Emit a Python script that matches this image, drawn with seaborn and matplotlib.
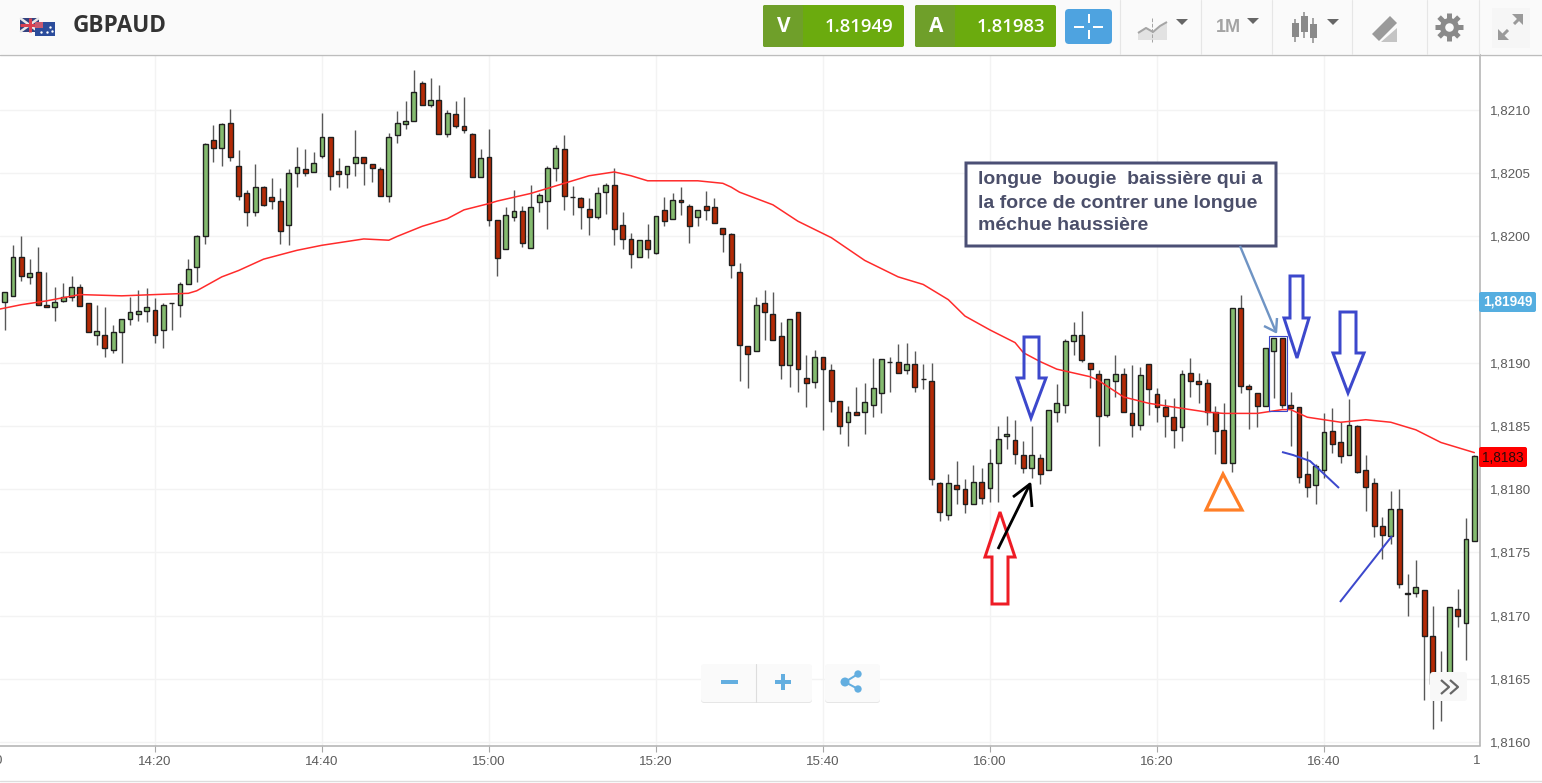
# GBPAUD 1 minute candles with moving average and hand drawn notes
import numpy as np
import pandas as pd
import seaborn as sns
import matplotlib
matplotlib.use('Agg')
import matplotlib.pyplot as plt
from matplotlib.patches import FancyBboxPatch, Polygon, Rectangle

# prices in 1e-5 units, one candle a minute from 14:02
opens = [181948,181953,181984,181968,181972,181946,181944,181949,181952,181960,181947,181922,181922,181910,181924,181935,181939,181941,181942,181926,
         181947,181946,181962,181976,182000,182076,182070,182090,182056,182034,182019,182039,182031,182028,182009,182050,182053,182051,182064,182079,
         182052,182049,182058,182063,182057,182053,182032,182080,182089,182091,182121,182104,182108,182081,182097,182087,182081,182047,182063,182013,
         181990,182015,182020,181991,182027,182028,182054,182069,182031,182030,182022,182015,182035,182041,182009,181998,181984,181997,181987,182021,
         182014,182029,182024,182015,182024,182023,182007,182002,181972,181913,181909,181947,181939,181921,181898,181940,181888,181885,181905,181894,
         181870,181853,181861,181861,181867,181876,181901,181901,181894,181899,181887,181886,181805,181780,181803,181800,181788,181806,181801,181821,
         181842,181839,181827,181817,181825,181815,181861,181867,181917,181922,181900,181891,181859,181886,181891,181860,181851,181899,181875,181865,
         181857,181849,181892,181886,181884,181861,181847,181821,181943,181882,181876,181866,181909,181920,181867,181865,181812,181803,181815,181846,
         181837,181827,181850,181815,181805,181771,181763,181784,181718,181718,181720,181684,181650,181645,181705,181694,181759]
highs = [181956,181993,182000,181982,181992,181972,181960,181963,181969,181962,181947,181946,181944,181930,181935,181952,181958,181959,181951,181947,
         181947,181964,181982,182001,182074,182088,182090,182101,182068,182037,182057,182040,182046,182038,182053,182071,182069,182067,182098,182079,
         182062,182056,182084,182063,182057,182055,182082,182099,182107,182132,182123,182125,182120,182100,182107,182110,182082,182069,182085,182013,
         182023,182037,182024,182041,182034,182056,182072,182080,182040,182031,182030,182039,182042,182054,182019,182003,181997,182010,182016,182031,
         182034,182039,182026,182021,182036,182030,182007,182003,181979,181913,181952,181958,181956,181932,181935,181940,181906,181910,181905,181899,
         181870,181866,181881,181884,181904,181903,181905,181915,181916,181909,181899,181900,181806,181812,181822,181808,181819,181817,181832,181850,
         181858,181855,181838,181850,181828,181863,181883,181919,181932,181941,181900,181894,181887,181906,181896,181898,181897,181899,181880,181871,
         181872,181894,181904,181892,181887,181866,181868,181943,181954,181883,181876,181912,181920,181920,181877,181865,181830,181820,181860,181864,
         181853,181871,181851,181827,181809,181778,181799,181800,181733,181744,181720,181708,181672,181707,181721,181777,181827]
lows = [181926,181953,181965,181962,181946,181944,181933,181948,181949,181945,181924,181914,181905,181908,181900,181930,181933,181932,181916,181912,
        181926,181936,181962,181964,181994,182059,182056,182060,182029,182008,182016,182024,182022,181994,181993,182039,182048,182051,182062,182037,
        182039,182038,182048,182041,182043,182032,182027,182074,182085,182091,182104,182102,182081,182079,182086,182082,182047,182047,182008,181969,
        181990,182012,181992,181991,182019,182006,182044,182021,182017,182006,182001,182014,182018,181993,181990,181975,181984,181983,181986,182008,
        182014,182017,181995,182008,182013,182011,181988,181967,181886,181880,181909,181918,181918,181887,181881,181877,181865,181880,181847,181861,
        181844,181834,181859,181844,181857,181860,181877,181892,181891,181877,181879,181803,181775,181776,181788,181781,181788,181788,181790,181790,
        181832,181820,181813,181809,181804,181815,181853,181860,181906,181901,181880,181834,181857,181873,181861,181841,181847,181859,181853,181841,
        181833,181838,181873,181868,181851,181828,181821,181814,181876,181848,181849,181866,181872,181864,181834,181805,181794,181788,181809,181829,
        181821,181827,181813,181783,181762,181745,181757,181722,181700,181715,181633,181610,181617,181641,181691,181665,181759]
closes = [181956,181984,181969,181971,181946,181944,181948,181952,181960,181945,181924,181925,181912,181924,181935,181940,181941,181944,181922,181946,
          181947,181962,181974,182000,182073,182070,182089,182063,182032,182019,182039,182025,182028,182004,182050,182055,182050,182058,182079,182048,
          182049,182056,182063,182058,182054,182032,182079,182090,182091,182114,182104,182108,182081,182098,182087,182084,182047,182062,182013,181983,
          182017,182020,181995,182023,182033,182054,182070,182032,182031,182023,182015,182034,182041,182006,181998,181986,181997,181990,182016,182012,
          182029,182027,182008,182021,182021,182011,182002,181977,181914,181907,181946,181940,181918,181898,181935,181895,181884,181905,181895,181870,
          181850,181861,181859,181869,181880,181903,181901,181892,181899,181881,181887,181808,181782,181805,181800,181788,181806,181793,181821,181840,
          181844,181828,181817,181827,181812,181863,181868,181917,181922,181902,181895,181858,181887,181891,181861,181851,181890,181879,181865,181858,
          181847,181891,181886,181883,181861,181846,181821,181943,181882,181879,181866,181912,181920,181867,181864,181810,181802,181818,181845,181836,
          181826,181851,181814,181802,181771,181764,181784,181725,181717,181723,181684,181646,181640,181707,181700,181761,181826]
first_minute = 2  # minutes after 14:00

# moving average, read at these minutes after 14:00
ma_minutes = [1,4,7,11,16,20,24,25,28,30,33,37,40,43,45,48,49,52,55,57,60,61,65,69,72,75,77,79,83,85,88,89,90,
              94,97,101,105,109,112,115,117,120,123,124,126,128,132,133,136,139,143,146,148,152,155,156,158,162,165,168,171,174,178]
ma_values = [181942,181946,181949,181954,181953,181954,181955,181957,181968,181973,181982,181989,181993,181996,181998,181997,182000,182008,182014,182021,182026,182028,
             182034,182042,182048,182051,182048,182044,182044,182044,182042,182039,182035,182025,182012,181999,181981,181968,181962,181950,181937,181926,181916,181908,
             181901,181895,181889,181886,181873,181868,181864,181861,181860,181860,181863,181863,181857,181853,181855,181853,181847,181837,181829]

price_ticks = [1.8160,1.8165,1.8170,1.8175,1.8180,1.8185,1.8190,1.8195,1.8200,1.8205,1.8210]
price_labels = ['1,8160','1,8165','1,8170','1,8175','1,8180','1,8185','1,8190','','1,8200','1,8205','1,8210']
time_ticks = [20,40,60,80,100,120,140,160]
time_labels = ['14:20','14:40','15:00','15:20','15:40','16:00','16:20','16:40']

note_lines = ['longue  bougie  baissière qui a', 'la force de contrer une longue', 'méchue haussière']

sns.set_style('white')
plt.rcParams['font.family'] = ['Liberation Sans', 'DejaVu Sans']

W, H = 1542, 783
fig = plt.figure(figsize=(W / 100, H / 100), dpi=100, facecolor='white')
ax = fig.add_axes([0, 1 - 745.5 / H, 1480 / W, (745.5 - 54.5) / H])

df = pd.DataFrame({'open': opens, 'high': highs, 'low': lows, 'close': closes}) / 1e5
df['minute'] = first_minute + np.arange(len(df))
df['up'] = df['close'] >= df['open']

# grid first, then wicks and bodies, average on top
ax.set_axisbelow(True)
ax.grid(True, color='#f3f3f3', lw=1.0)
ax.vlines(df['minute'], df['low'], df['high'], color='#585858', lw=1.0, zorder=2)
ax.bar(df['minute'], (df['close'] - df['open']).abs(), bottom=df[['open', 'close']].min(axis=1), width=0.58,
       color=np.where(df['up'], '#84bb6f', '#b32a06'), edgecolor='#1f1f1f', linewidth=1.0, zorder=3)

ma = pd.DataFrame({'minute': ma_minutes, 'ma': np.array(ma_values) / 1e5})
sns.lineplot(data=ma, x='minute', y='ma', color='#ff2b2b', lw=1.1, ax=ax, zorder=4, errorbar=None)

ax.set_xlim(1.437, 178.68)
ax.set_ylim(1.815973, 1.821439)
ax.set_xlabel('')
ax.set_ylabel('')
ax.set_xticks(time_ticks)
ax.set_xticklabels(time_labels, fontsize=9.6, color='#5c5c5c')
ax.yaxis.tick_right()
ax.set_yticks(price_ticks)
ax.set_yticklabels(price_labels, fontsize=9.6, color='#5c5c5c')
ax.tick_params(axis='x', length=4.3, width=0.8, color='#a8a8a8', pad=3.5, bottom=True)
ax.tick_params(axis='y', length=3, width=0.8, color='#a8a8a8', pad=4, right=True)
sns.despine(ax=ax, top=True, left=True, right=False, bottom=False)
for side in ['right', 'bottom']:
    ax.spines[side].set_color('#b0b0b0')
    ax.spines[side].set_linewidth(1.1)

# overlay in picture pixels for the toolbar, buttons and hand drawn notes
ov = fig.add_axes([0, 0, 1, 1], facecolor='none')
ov.set_xlim(0, W)
ov.set_ylim(H, 0)
ov.axis('off')


def box(x0, y0, x1, y1, fc, ec='none', r=2, lw=0, z=5):
    p = FancyBboxPatch((x0, y0), x1 - x0, y1 - y0, boxstyle=f'round,pad=0,rounding_size={r}', fc=fc, ec=ec, lw=lw, zorder=z)
    ov.add_patch(p)
    return p


def outline(points, color, lw=3.0, closed=True):
    ov.add_patch(Polygon(points, closed=closed, fill=False, ec=color, lw=lw * 0.72, joinstyle='miter', zorder=7))


def stroke(xs, ys, color, lw=2.0, ls='-'):
    ov.plot(xs, ys, color=color, lw=lw * 0.72, ls=ls, zorder=7, solid_capstyle='butt')


def tri(cx, cy, color='#666666'):
    ov.add_patch(Polygon([(cx - 6, cy - 3), (cx + 6, cy - 3), (cx, cy + 3)], fc=color, ec='none', zorder=6))


# toolbar
ov.add_patch(Rectangle((0, 0), W, 54, fc='#fafafa', ec='none', zorder=4))
ov.plot([0, W], [54.5, 54.5], color='#bdbdbd', lw=1, zorder=5)
for sx in [1120, 1201, 1272, 1352, 1427, 1479]:
    ov.plot([sx, sx], [0, 54], color='#e6e6e6', lw=0.8, zorder=5)

# flags
ov.add_patch(Rectangle((20, 18), 19, 14, fc='#33427f', ec='none', zorder=5))
stroke([20, 39], [18, 32], '#e8e8e8', 2.5)
stroke([20, 39], [32, 18], '#e8e8e8', 2.5)
stroke([29.5, 29.5], [18, 32], '#d8404f', 3)
stroke([20, 39], [25, 25], '#d8404f', 3)
ov.add_patch(Rectangle((35, 22), 20, 14, fc='#2b4c9b', ec='none', zorder=8))
ov.add_patch(Rectangle((35, 22), 8, 6, fc='#c85a70', ec='none', zorder=8))
ov.scatter([41, 50, 47, 52], [32, 27, 32, 31], s=3, color='white', zorder=9, linewidths=0)
ov.text(73, 26.5, 'GBPAUD', fontsize=16.3, fontweight='bold', family='Open Sans', color='#333333', va='center', zorder=6)

# bid and ask
for x0, letter, value in [(763, 'V', '1.81949'), (915, 'A', '1.81983')]:
    box(x0, 5, x0 + 141, 47, '#6bab0e')
    box(x0, 5, x0 + 40, 47, '#6f9f2a')
    ov.text(x0 + 21, 26.5, letter, color='white', fontsize=15, fontweight='bold', family='Open Sans', ha='center', va='center', zorder=6)
    ov.text(x0 + 130, 26.5, value, color='white', fontsize=13.3, fontweight='semibold', family='Open Sans', ha='right', va='center', zorder=6)

# crosshair button
box(1065, 9, 1112, 44, '#4ea3e0', r=4)
stroke([1088.5, 1088.5], [14, 23], 'white', 2)
stroke([1088.5, 1088.5], [30, 39], 'white', 2)
stroke([1074, 1084], [26.5, 26.5], 'white', 2)
stroke([1093, 1103], [26.5, 26.5], 'white', 2)

# chart type, period, candles, draw, settings, expand
ov.add_patch(Polygon([(1138, 40), (1138, 32), (1146, 27), (1153, 31), (1167, 22), (1167, 40)], fc='#e2e2e2', ec='none', zorder=6))
stroke([1138, 1146, 1153, 1160, 1167], [33, 28, 32, 26, 22], '#a5a5a5', 2)
stroke([1152, 1152], [18, 42], '#a5a5a5', 1, '--')
tri(1182, 22)
ov.text(1228, 27, '1M', color='#a3a3a3', fontsize=13, fontweight='bold', ha='center', va='center', zorder=6)
tri(1253, 21)
for cx, wick_top, wick_bot, top, bot in [(1295, 19, 42, 23, 37), (1304, 12, 38, 16, 32), (1313, 18, 43, 24, 38)]:
    stroke([cx, cx], [wick_top, wick_bot], '#8a8a8a', 1.5)
    ov.add_patch(Rectangle((cx - 3.5, top), 7, bot - top, fc='#8a8a8a', ec='none', zorder=6))
tri(1333, 22)
ov.add_patch(Polygon([(1372, 34), (1390, 16), (1397, 23), (1379, 41)], fc='#9a9a9a', ec='none', zorder=6))
ov.add_patch(Polygon([(1381, 42), (1397, 28), (1397, 42)], fc='#c4c4c4', ec='none', zorder=6))
for a in np.deg2rad(np.arange(0, 360, 45)):
    stroke([1449, 1449 + 14 * np.cos(a)], [27, 27 + 14 * np.sin(a)], '#8a8a8a', 5)
ov.scatter([1449], [27], s=190, color='#8a8a8a', zorder=8, linewidths=0)
ov.scatter([1449], [27], s=38, color='#fafafa', zorder=9, linewidths=0)
box(1492, 8, 1530, 48, '#f6f6f6', r=1)
stroke([1503, 1508], [35, 30], '#9a9a9a', 3)
stroke([1514, 1519], [24, 19], '#9a9a9a', 3)
ov.add_patch(Polygon([(1498, 40), (1498, 29), (1509, 40)], fc='#9a9a9a', ec='none', zorder=6))
ov.add_patch(Polygon([(1523, 14), (1512, 14), (1523, 25)], fc='#9a9a9a', ec='none', zorder=6))

# axis labels cut by the plot edges
ov.text(-13, 761, '14:00', fontsize=9.6, color='#5c5c5c', ha='center', va='center', clip_on=True, zorder=6)
cut = ov.text(1490, 761, '17:00', fontsize=9.6, color='#5c5c5c', ha='center', va='center', clip_on=True, zorder=6)
cut.set_clip_path(Rectangle((1470, 750), 10, 25, transform=ov.transData))
ov.plot([0, W], [780.5, 780.5], color='#dddddd', lw=1, zorder=5)

# current prices
box(1479, 292, 1536, 312, '#55aee0', r=2, z=6)
ov.text(1507.5, 302, '1,81949', color='white', fontsize=9.8, fontweight='bold', ha='center', va='center', zorder=7)
box(1479, 447, 1527, 467, '#ff0000', r=2, z=6)
ov.text(1503, 457.5, '1,8183', color='#2a0a0a', fontsize=9.8, ha='center', va='center', zorder=7)

# zoom, share and scroll buttons
for x0, x1 in [(701, 812), (825, 880)]:
    box(x0, 665, x1, 703, '#e6e6e6', r=3, z=5)
    box(x0, 664, x1, 702, '#fafafa', r=3, z=5)
ov.plot([755.5, 755.5], [664, 702], color='#dddddd', lw=0.8, zorder=6)
stroke([721, 738], [682, 682], '#63aee0', 4)
stroke([775, 791], [682, 682], '#63aee0', 4)
stroke([783, 783], [674, 690], '#63aee0', 4)
stroke([858, 845, 858], [674, 682, 689], '#63aee0', 2)
ov.scatter([858, 845, 858], [674, 682, 689], s=[28, 42, 28], color='#63aee0', zorder=8, linewidths=0)
box(1430, 672, 1467, 701, '#f8f8f8', r=3, z=6)
stroke([1441, 1449, 1441], [680, 687, 694], '#666666', 2.2)
stroke([1450, 1458, 1450], [680, 687, 694], '#666666', 2.2)

# note box
box(966, 163, 1276, 246, 'white', ec='#4b4f75', r=0, lw=3 * 0.72, z=6)
for line, ly in zip(note_lines, [180, 203, 226]):
    ov.text(978, ly, line, color='#4b4f6a', fontsize=14, fontweight='bold', va='center', zorder=7)
stroke([1240, 1276], [246, 332], '#6f94c4', 2.4)
stroke([1264, 1276, 1277], [326, 332, 318], '#6f94c4', 2.4)

# hand drawn arrows and marks
blue = '#3c48cc'
ov.add_patch(Rectangle((1269, 336), 18, 75, fill=False, ec=blue, lw=0.8, zorder=7))
outline([(1024, 337), (1039, 337), (1039, 378), (1046, 378), (1031, 418), (1017, 378), (1024, 378)], blue)
outline([(1290, 276), (1303, 276), (1303, 318), (1309, 318), (1297, 358), (1284, 318), (1290, 318)], blue)
outline([(1340, 312), (1356, 312), (1356, 353), (1364, 353), (1348, 393), (1333, 353), (1340, 353)], blue)
outline([(1000, 512), (985, 557), (992, 557), (992, 604), (1008, 604), (1008, 557), (1015, 557)], '#ee1c25')
outline([(1223, 474), (1206, 510), (1242, 510)], '#ff7f27', lw=3.2)
stroke([998, 1030], [549, 484], 'black', 2.8)
stroke([1013, 1030, 1032], [497, 484, 507], 'black', 2.8)
stroke([1282, 1293, 1310, 1323, 1339], [452, 455, 461, 473, 488], blue, 2)
stroke([1340, 1392], [602, 536], blue, 2)

fig.savefig('out.png', dpi=100)
